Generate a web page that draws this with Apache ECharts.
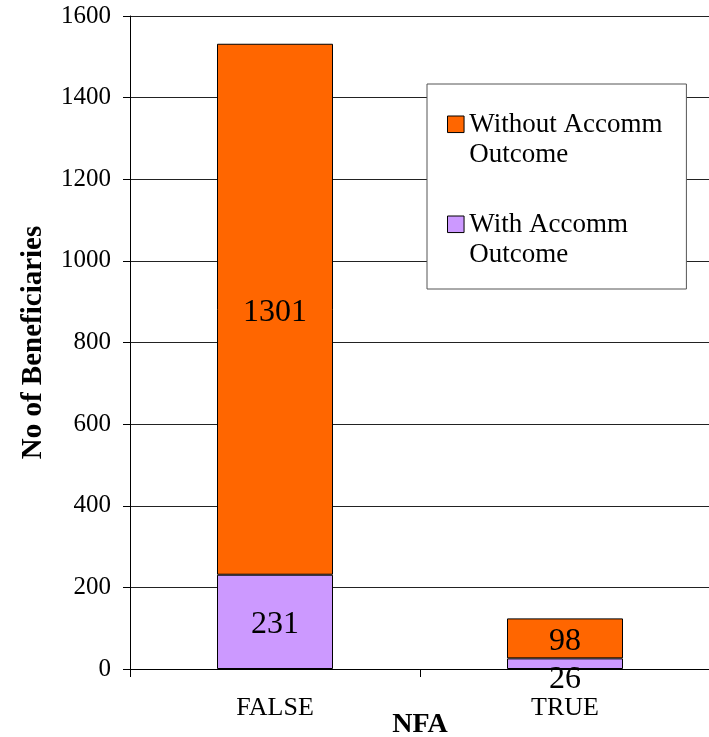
<!DOCTYPE html>
<html>
<head>
<meta charset="utf-8">
<script src="https://cdn.jsdelivr.net/npm/echarts@6/dist/echarts.min.js"></script>
<style>html,body{margin:0;padding:0;background:#fff}#c{width:709px;height:737px}</style>
</head>
<body>
<div id="c"></div>
<script>
const categories = ['FALSE', 'TRUE'];
const withAccomm = [231, 26];
const withoutAccomm = [1301, 98];
const seriesNames = ['Without Accomm\nOutcome', 'With Accomm\nOutcome'];
const yTicks = { min: 0, max: 1600, interval: 200 };

const FONT = '"Liberation Serif", "Times New Roman", serif';
const chart = echarts.init(document.getElementById('c'), null, { renderer: 'canvas' });
const iconPath = 'path://M0,0L10,0L10,10L0,10Z M0,29L0.001,29';

// small segments cannot hold their label; it sits just under the bar as in the reference
const withAccommData = withAccomm.map(function (v) {
  return v < 60 ? { value: v, label: { position: 'bottom', distance: -5, offset: [0, 0] } } : v;
});

chart.setOption({
  animation: false,
  textStyle: { fontFamily: FONT, color: '#000' },
  grid: { left: 130, right: -1, top: 16, bottom: 68, containLabel: false, outerBoundsMode: 'none' },
  legend: {
    orient: 'vertical',
    left: 427, top: 84,
    data: [seriesNames[0], seriesNames[1]],
    backgroundColor: '#fff',
    borderColor: '#555', borderWidth: 1,
    padding: [26, 24, 19, 20],
    itemGap: 40,
    itemWidth: 17, itemHeight: 48,
    itemTextGap: 8,
    icon: iconPath,
    itemStyle: { borderColor: '#000', borderWidth: 1 },
    textStyle: { fontFamily: FONT, fontSize: 27, lineHeight: 30, color: '#000' }
  },
  xAxis: {
    type: 'category',
    data: categories,
    name: 'NFA',
    nameLocation: 'middle',
    nameGap: 42,
    nameMoveOverlap: false,
    nameTextStyle: { fontFamily: FONT, fontSize: 28, fontWeight: 'bold', color: '#000' },
    axisLine: { lineStyle: { color: '#000', width: 1 } },
    axisTick: { show: true, length: 8, lineStyle: { color: '#000' } },
    axisLabel: { fontFamily: FONT, fontSize: 26, color: '#000', margin: 26 }
  },
  yAxis: {
    type: 'value',
    min: yTicks.min, max: yTicks.max, interval: yTicks.interval,
    name: 'No of Beneficiaries',
    nameLocation: 'middle',
    nameGap: 82,
    nameMoveOverlap: false,
    nameTextStyle: { fontFamily: FONT, fontSize: 29, fontWeight: 'bold', color: '#000' },
    axisLine: { show: true, lineStyle: { color: '#000', width: 1 } },
    axisTick: { show: true, length: 7, lineStyle: { color: '#000' } },
    axisLabel: { fontFamily: FONT, fontSize: 25, color: '#000', margin: 19, formatter: function (v) { return String(v); } },
    splitLine: { show: true, lineStyle: { color: '#222', width: 1 } }
  },
  series: [
    {
      name: seriesNames[1],
      type: 'bar', stack: 'total',
      data: withAccommData,
      barWidth: '40%',
      itemStyle: { color: '#CC99FF', borderColor: '#000', borderWidth: 1 },
      label: { show: true, position: 'inside', offset: [0, 3], color: '#000', fontFamily: FONT, fontSize: 32 }
    },
    {
      name: seriesNames[0],
      type: 'bar', stack: 'total',
      data: withoutAccomm,
      barWidth: '40%',
      itemStyle: { color: '#FF6600', borderColor: '#000', borderWidth: 1 },
      label: { show: true, position: 'inside', offset: [0, 3], color: '#000', fontFamily: FONT, fontSize: 32 }
    }
  ]
});
</script>
</body>
</html>
